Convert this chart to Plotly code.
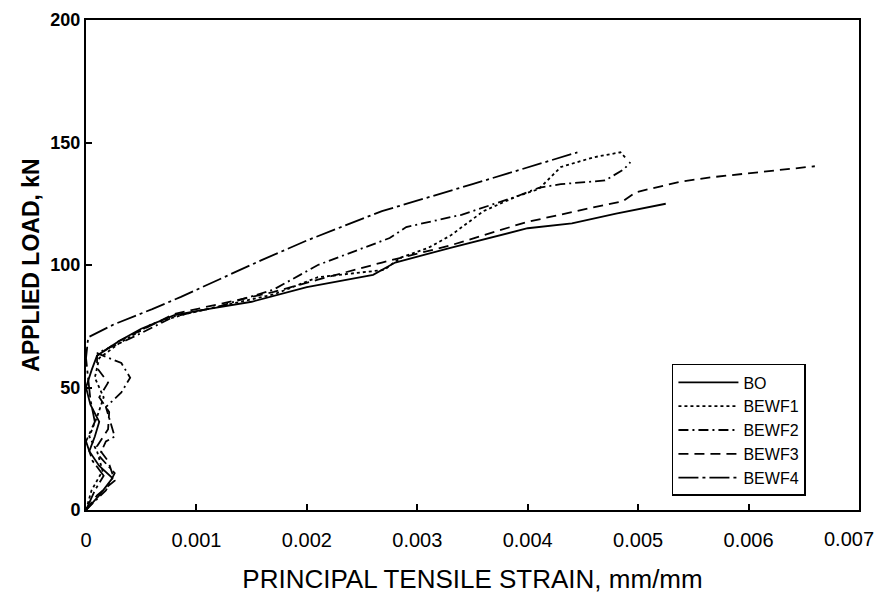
import plotly.graph_objects as go

# ---- data (strain in mm/mm, load in kN) ----
bo_strain = [0, 0.00012, 0.00024, 0.00012, 0.00003, 0.00008, 0.00012, 0.00004, 0, 0.00005, 0.0001,
             0.0003, 0.0005, 0.0008, 0.0011, 0.0015, 0.002, 0.0026, 0.0028, 0.0033, 0.004, 0.0044,
             0.0048, 0.00525]
bo_load = [0, 6, 13, 18, 24, 30, 36, 43, 50, 57, 63,
           69, 74, 79.5, 82, 85, 91, 96, 101, 107, 115, 117,
           121, 125]

bewf1_strain = [0, 0.00005, 0.00015, 0.0001, 0.00003, 0.0001, 0.00016, 0.00008, 0.00012, 0.0003,
                0.0006, 0.0009, 0.0013, 0.0017, 0.0021, 0.0027, 0.00285, 0.0031, 0.0033, 0.0036,
                0.0039, 0.0041, 0.0043, 0.0046, 0.00484, 0.0049]
bewf1_load = [0, 8, 16, 24, 30, 38, 46, 54, 62, 68,
              76, 80, 84, 88, 95, 98, 103, 107, 112, 122,
              128, 131, 140, 144, 146, 143]

bewf2_strain = [0, 0.00018, 0.00026, 0.00012, 0.00018, 0.00026, 0.00022, 0.00018, 0.00032, 0.0004,
                0.00032, 0.0001, 0.0004, 0.0008, 0.0012, 0.0017, 0.0021, 0.0024, 0.00275, 0.0029,
                0.0034, 0.0039, 0.0041, 0.0043, 0.0047, 0.00487, 0.00493]
bewf2_load = [0, 8, 15, 22, 28, 30, 36, 42, 48, 54,
              60, 64, 70, 79, 83, 90, 100, 105, 111, 115.5,
              120.5, 128, 131.5, 133, 134.5, 139, 142]

bewf3_strain = [0, 0.0001, 0.00026, 0.0002, 0.0001, 0.0002, 0.00021, 0.00012, 0.0002, 0.0001, 0.0001,
                0.0003, 0.0008, 0.0013, 0.0017, 0.0021, 0.00268, 0.0033, 0.00398, 0.00459, 0.00486,
                0.00498, 0.00538, 0.00566, 0.0066]
bewf3_load = [0, 6, 12, 20, 26, 33, 40, 46, 52, 58, 63,
              69, 80, 85, 89, 94, 101, 108, 117.4, 123.5, 126,
              129.7, 134, 135.8, 140.3]

bewf4_strain = [0, 0.00008, 0.00016, 0.00006, 0, 0.00008, 0.00004, 0.00002, 0, 0.00002,
                0.00025, 0.0006, 0.00086, 0.0012, 0.00159, 0.002, 0.00268, 0.0035, 0.00445]
bewf4_load = [0, 8, 14, 20, 28, 36, 45, 55, 62, 70.5,
              75.7, 82, 87, 94, 102, 110, 122, 133, 146]

series_names = ["BO", "BEWF1", "BEWF2", "BEWF3", "BEWF4"]
x_tickvals = [0, 0.001, 0.002, 0.003, 0.004, 0.005, 0.006, 0.007]
x_ticktext = ["0", "0.001", "0.002", "0.003", "0.004", "0.005", "0.006", ""]
x_last_label = "0.007"
y_tickvals = [0, 50, 100, 150, 200]

data = [
    (bo_strain, bo_load, "solid"),
    (bewf1_strain, bewf1_load, "dot"),
    (bewf2_strain, bewf2_load, "10px,4px,2px,4px"),
    (bewf3_strain, bewf3_load, "10px,6px"),
    (bewf4_strain, bewf4_load, "20px,4px,3px,4px"),
]

narrow = "Liberation Sans Narrow, Arial Narrow, Liberation Sans, Arial, sans-serif"

fig = go.Figure()
for name, (xs, ys, dash) in zip(series_names, data):
    fig.add_trace(go.Scatter(x=xs, y=ys, mode="lines", name=name,
                             line=dict(color="black", width=1.8, dash=dash)))

fig.add_annotation(x=x_tickvals[-1], y=0, xref="x", yref="paper", text=x_last_label,
                   showarrow=False, xanchor="center", yanchor="middle", xshift=-10, yshift=-29,
                   font=dict(family=narrow, size=20, color="black"))

fig.update_layout(
    width=874, height=591,
    margin=dict(l=78, r=23, t=12, b=89),
    paper_bgcolor="white", plot_bgcolor="white",
    font=dict(family="Liberation Sans, Arial, sans-serif", color="black"),
    showlegend=True,
    legend=dict(x=0.758, y=0.298, xanchor="left", yanchor="top",
                bordercolor="black", borderwidth=1.5, bgcolor="white",
                font=dict(size=16, family=narrow), itemwidth=60, tracegroupgap=0),
)
fig.update_xaxes(
    range=[0, 0.007], tickvals=x_tickvals, ticktext=x_ticktext,
    showline=True, mirror=True, linecolor="black", linewidth=2,
    ticks="inside", ticklen=6, tickwidth=1.5, tickcolor="black",
    showgrid=False, zeroline=False, ticklabelstandoff=11, automargin=False,
    tickfont=dict(size=20, family=narrow),
    title=dict(text="PRINCIPAL TENSILE STRAIN, mm/mm", font=dict(size=26), standoff=20),
)
fig.update_yaxes(
    range=[0, 200], tickvals=y_tickvals,
    showline=True, mirror=True, linecolor="black", linewidth=2,
    ticks="inside", ticklen=6, tickwidth=1.5, tickcolor="black",
    showgrid=False, zeroline=False, ticklabelstandoff=0, automargin=False,
    tickfont=dict(size=18, weight="bold"),
    title=dict(text="APPLIED LOAD, kN", font=dict(size=23, weight="bold"), standoff=4),
)

fig.write_html("out.html")
